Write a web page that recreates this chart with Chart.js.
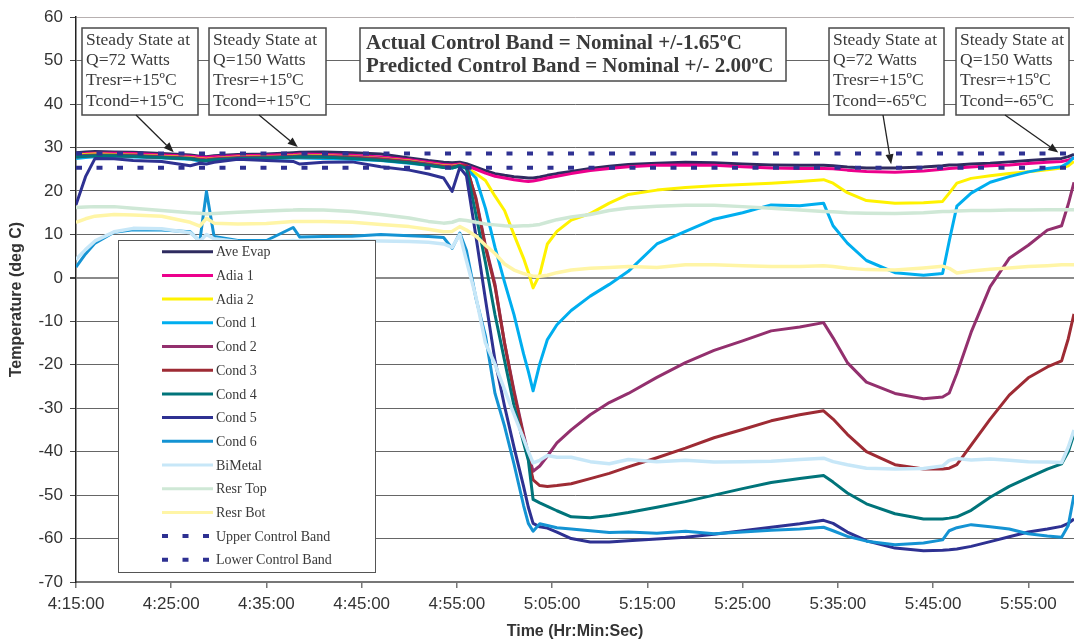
<!DOCTYPE html>
<html>
<head>
<meta charset="utf-8">
<script src="https://cdn.jsdelivr.net/npm/chart.js@4.4.1/dist/chart.umd.min.js"></script>
<style>
  html, body { margin: 0; padding: 0; background: #fff; }
  #wrap { width: 1074px; height: 644px; }
</style>
</head>
<body>
<div id="wrap"><canvas id="tempChart" width="1074" height="644"></canvas></div>
<script>
// x values: minutes after 4:15:00
const minutes = [0, 1, 2, 4, 6, 9, 12, 13, 13.7, 14.5,
  17, 20, 22.8, 23.5, 26, 29, 32, 35, 37, 38.6,
  39.5, 40.3, 41, 42, 43, 44, 45, 46, 47, 47.5,
  48, 48.7, 49.5, 50.5, 52, 54, 56, 58, 61, 64,
  67, 70, 73, 76, 78.5, 79.5, 81, 83, 86, 89,
  91, 91.7, 92.5, 94, 96, 98, 100, 102, 103.5, 104.2,
  104.8];

const aveEvap = [28.8, 29.0, 29.1, 29.0, 28.9, 28.6, 28.3, 28.0, 27.9, 28.1,
  28.4, 28.5, 28.8, 28.9, 29.0, 28.8, 28.5, 27.6, 27.0, 26.6,
  26.5, 26.6, 26.3, 25.5, 24.7, 24.0, 23.6, 23.3, 23.1, 23.0,
  23.0, 23.2, 23.6, 24.0, 24.5, 25.2, 25.7, 26.1, 26.4, 26.6,
  26.5, 26.2, 26.0, 25.9, 25.9, 25.8, 25.5, 25.3, 25.3, 25.5,
  25.8, 26.0, 26.0, 26.2, 26.4, 26.7, 27.0, 27.3, 27.5, 27.9,
  28.4];
const adia1 = [28.4, 28.6, 28.7, 28.7, 28.6, 28.3, 28.0, 27.8, 27.7, 27.9,
  28.1, 28.2, 28.4, 28.5, 28.4, 28.2, 27.8, 27.2, 26.6, 26.1,
  26.0, 26.2, 25.8, 25.0, 24.1, 23.4, 23.0, 22.6, 22.3, 22.2,
  22.3, 22.6, 23.0, 23.4, 24.0, 24.7, 25.2, 25.6, 25.9, 26.0,
  25.9, 25.6, 25.3, 25.2, 25.2, 25.1, 24.8, 24.5, 24.3, 24.6,
  25.0, 25.2, 25.3, 25.5, 25.8, 26.0, 26.3, 26.6, 26.8, 27.1,
  27.6];
const adia2 = [28.2, 28.4, 28.5, 28.4, 28.3, 28.0, 27.7, 27.4, 27.3, 27.5,
  27.8, 27.9, 28.1, 28.2, 28.1, 27.9, 27.5, 26.9, 26.3, 25.8,
  25.7, 26.0, 25.3, 24.0, 22.4, 18.8, 15.5, 9.9, 4.5, 1.3,
  -2.3, 0.8, 7.8, 10.7, 13.3, 14.8, 17.2, 19.2, 20.2, 20.8,
  21.2, 21.5, 21.8, 22.2, 22.6, 21.8, 19.6, 17.8, 17.2, 17.3,
  17.6, 19.5, 21.8, 22.9, 23.5, 24.0, 24.4, 24.9, 25.3, 25.8,
  26.8];
const cond1 = [27.5, 27.7, 27.9, 27.9, 27.8, 27.6, 27.3, 26.9, 26.9, 27.1,
  27.3, 27.4, 27.6, 27.6, 27.5, 27.3, 27.0, 26.4, 25.9, 25.5,
  25.3, 25.8, 25.2, 23.0, 16.0, 7.0, -1.0, -8.5, -17.5, -21.5,
  -26.0, -19.8, -14.2, -10.8, -7.5, -4.2, -1.5, 1.5, 7.8, 10.7,
  13.5, 15.0, 16.8, 16.6, 17.2, 12.0, 8.0, 4.0, 1.2, 0.6,
  1.0, 8.5, 16.5, 19.5, 22.0, 23.3, 24.4, 25.2, 25.6, 26.5,
  27.8];
const cond2 = [28.0, 28.2, 28.3, 28.3, 28.2, 27.9, 27.6, 27.3, 27.2, 27.4,
  27.7, 27.8, 28.0, 28.1, 28.0, 27.8, 27.4, 26.8, 26.2, 25.7,
  25.6, 25.9, 25.5, 18.4, 7.4, -1.5, -15.0, -26.0, -36.0, -40.5,
  -44.5, -43.3, -41.0, -38.0, -35.0, -31.5, -28.7, -26.6, -22.9, -19.5,
  -16.7, -14.5, -12.2, -11.3, -10.3, -13.8, -19.5, -24.0, -26.6, -27.8,
  -27.4, -26.5, -22.0, -12.5, -2.0, 4.5, 7.5, 11.0, 12.0, 17.0,
  22.0];
const cond3 = [27.8, 28.0, 28.1, 28.1, 28.0, 27.7, 27.4, 27.1, 27.0, 27.2,
  27.5, 27.6, 27.8, 27.9, 27.8, 27.6, 27.2, 26.6, 26.0, 25.5,
  25.4, 25.8, 25.8, 18.0, 7.0, -2.0, -15.0, -26.5, -36.5, -41.5,
  -46.5, -47.8, -48.0, -47.8, -47.4, -46.2, -45.0, -43.5, -41.4, -39.2,
  -36.8, -34.9, -32.9, -31.5, -30.6, -32.5, -36.0, -40.0, -43.0, -44.0,
  -44.0, -43.8, -43.0, -38.5, -32.5, -27.0, -23.0, -20.5, -19.1, -14.0,
  -8.3];
const cond4 = [27.9, 28.0, 28.1, 28.1, 28.0, 27.7, 27.4, 27.1, 27.0, 27.2,
  27.5, 27.6, 27.8, 27.9, 27.8, 27.5, 27.1, 26.5, 25.9, 25.4,
  25.3, 25.8, 25.2, 14.5, 3.5, -8.5, -19.0, -29.5, -38.0, -42.0,
  -51.0, -51.8, -52.6, -53.6, -55.0, -55.2, -54.7, -54.0, -52.8, -51.5,
  -50.0, -48.5, -47.1, -46.2, -45.5, -47.0, -49.5, -52.0, -54.3, -55.5,
  -55.5, -55.3, -55.0, -53.5, -50.5, -48.0, -46.0, -44.0, -42.8, -40.0,
  -36.0];
const cond5 = [16.8, 23.3, 27.5, 27.4, 27.0, 26.8, 25.8, 26.4, 26.2, 26.6,
  27.3, 27.0, 26.8, 26.2, 26.6, 26.7, 25.6, 24.8, 23.9, 23.0,
  19.9, 25.4, 23.5, 9.5, -5.0, -19.0, -29.5, -39.0, -48.0, -52.8,
  -56.5, -57.3, -57.6, -58.5, -60.0, -60.8, -60.8, -60.5, -60.1, -59.7,
  -59.0, -58.2, -57.4, -56.6, -55.8, -56.5, -58.5, -60.5, -62.2, -62.8,
  -62.7, -62.6, -62.4, -61.8, -60.7, -59.6, -58.5, -57.8, -57.2, -56.5,
  -55.5];
const cond6 = [2.5, 5.5, 8.0, 10.5, 11.1, 11.0, 10.6, 8.4, 19.9, 9.5,
  8.6, 8.6, 11.6, 9.4, 9.5, 9.6, 10.0, 9.7, 9.5, 9.3,
  6.8, 10.3, 6.3, -4.7, -13.4, -26.6, -34.1, -42.9, -52.4, -56.5,
  -58.3, -56.6, -57.0, -57.5, -57.8, -58.2, -58.6, -58.5, -58.8, -58.3,
  -58.9, -58.5, -58.1, -57.8, -57.4, -58.2, -59.5, -60.6, -61.4, -61.0,
  -60.3, -58.2, -57.5, -56.8, -57.3, -57.8, -58.9, -59.4, -59.7, -57.0,
  -50.0];
const biMetal = [4.2, 6.5, 8.5, 10.6, 11.4, 11.3, 10.4, 8.5, 10.0, 9.0,
  8.4, 8.3, 8.6, 8.5, 8.5, 8.6, 8.5, 8.4, 8.2, 7.8,
  7.0, 10.0, 4.0, -4.4, -15.0, -19.9, -25.7, -31.4, -37.0, -40.0,
  -42.6, -42.0, -40.9, -41.3, -41.3, -42.3, -42.8, -41.8, -42.3, -42.0,
  -42.4, -42.3, -42.2, -41.8, -41.5, -42.3, -43.0, -43.8, -44.0, -43.9,
  -43.3, -42.0, -41.6, -41.9, -41.7, -42.0, -42.3, -42.4, -42.5, -39.0,
  -35.0];
const resrTop = [16.2, 16.3, 16.4, 16.4, 16.0, 15.5, 15.0, 14.9, 14.7, 14.8,
  15.1, 15.4, 15.6, 15.7, 15.6, 15.3, 14.6, 13.8, 13.0, 12.6,
  12.8, 13.4, 13.2, 12.8, 12.4, 12.2, 12.0, 11.9, 12.0, 12.0,
  12.1, 12.3, 12.8, 13.4, 14.0, 14.6, 15.5, 16.1, 16.5, 16.7,
  16.7, 16.4, 16.0, 15.6, 15.3, 15.2, 15.0, 14.9, 14.8, 15.0,
  15.3, 15.3, 15.4, 15.5, 15.5, 15.6, 15.6, 15.7, 15.7, 15.7,
  15.7];
const resrBot = [12.8, 13.6, 14.2, 14.6, 14.5, 14.2, 12.8, 11.9, 13.7, 12.6,
  12.4, 12.5, 13.0, 13.0, 13.0, 12.8, 12.3, 11.8, 11.2, 10.6,
  10.7, 11.8, 11.0, 9.6, 7.5, 5.6, 3.2, 1.8, 1.0, 0.7,
  0.4, 0.4, 0.6, 1.2, 1.8, 2.2, 2.4, 2.6, 2.4, 3.0,
  3.0, 2.8, 2.6, 2.6, 2.8, 2.6, 2.2, 1.9, 1.8, 2.3,
  2.7, 2.2, 1.1, 1.6, 2.0, 2.3, 2.6, 2.8, 3.0, 3.0,
  3.0];
const upperBand = 28.65;
const lowerBand = 25.35;

// tick positions (minutes after 4:15:00 and deg C)
const timeTicks = [0, 10, 20, 30, 40, 50, 60, 70, 80, 90, 100];
const xRange = { min: 0, max: 104.8 };
const yTicks = { min: -70, max: 60, step: 10 };
const startSeconds = 4 * 3600 + 15 * 60;

function fmtTime(v) {
  const total = startSeconds + Math.round(v * 60);
  const h = Math.floor(total / 3600);
  const m = Math.floor((total % 3600) / 60);
  const s = total % 60;
  return h + ':' + String(m).padStart(2, '0') + ':' + String(s).padStart(2, '0');
}

function pts(values) {
  return minutes.map((m, i) => ({ x: m, y: values[i] }));
}

const seriesDefs = [
  ['Ave Evap', aveEvap, '#2e2b5f', 3],
  ['Adia 1', adia1, '#ec008c', 3],
  ['Adia 2', adia2, '#fff200', 3],
  ['Cond 1', cond1, '#00aeef', 3],
  ['Cond 2', cond2, '#93306e', 3],
  ['Cond 3', cond3, '#9e2b34', 3],
  ['Cond 4', cond4, '#00747a', 3],
  ['Cond 5', cond5, '#2e3192', 3],
  ['Cond 6', cond6, '#1493d3', 3],
  ['BiMetal', biMetal, '#c7e7f8', 3.5],
  ['Resr Top', resrTop, '#cfe8d6', 3.5],
  ['Resr Bot', resrBot, '#fff5a6', 3.5]
];

const datasets = seriesDefs.map((d, i) => ({
  label: d[0],
  data: pts(d[1]),
  borderColor: d[2],
  borderWidth: d[3],
  order: -i
}));
datasets.push({
  label: 'Upper Control Band',
  data: pts(minutes.map(() => upperBand)),
  borderColor: '#2e3192', borderWidth: 4, borderDash: [6, 14.5], order: -12
});
datasets.push({
  label: 'Lower Control Band',
  data: pts(minutes.map(() => lowerBand)),
  borderColor: '#2e3192', borderWidth: 4, borderDash: [6, 14.5], order: -13
});

// text boxes over the plot
const notes = [
  { x: 82, y: 28, w: 116, h: 87, lines: ['Steady State at', 'Q=72 Watts', 'Tresr=+15ºC', 'Tcond=+15ºC'], tail: [136, 115], tip: [10.26, 28.92] },
  { x: 209, y: 28, w: 117, h: 87, lines: ['Steady State at', 'Q=150 Watts', 'Tresr=+15ºC', 'Tcond=+15ºC'], tail: [259, 115], tip: [23.29, 30.12] },
  { x: 829, y: 28, w: 115, h: 87, lines: ['Steady State at', 'Q=72 Watts', 'Tresr=+15ºC', 'Tcond=-65ºC'], tail: [883, 115], tip: [85.6, 26.17] },
  { x: 956, y: 28, w: 113, h: 87, lines: ['Steady State at', 'Q=150 Watts', 'Tresr=+15ºC', 'Tcond=-65ºC'], tail: [1005, 115], tip: [103.15, 28.85] }
];
const bandNote = ['Actual Control Band = Nominal +/-1.65ºC', 'Predicted Control Band = Nominal +/- 2.00ºC'];

function arrow(ctx, x1, y1, x2, y2) {
  const a = Math.atan2(y2 - y1, x2 - x1);
  const len = 10, half = 4;
  ctx.beginPath();
  ctx.moveTo(x1, y1);
  ctx.lineTo(x2 - Math.cos(a) * len, y2 - Math.sin(a) * len);
  ctx.stroke();
  ctx.beginPath();
  ctx.moveTo(x2, y2);
  ctx.lineTo(x2 - Math.cos(a) * len - Math.sin(a) * half, y2 - Math.sin(a) * len + Math.cos(a) * half);
  ctx.lineTo(x2 - Math.cos(a) * len + Math.sin(a) * half, y2 - Math.sin(a) * len - Math.cos(a) * half);
  ctx.closePath();
  ctx.fill();
}

const overlay = {
  id: 'overlay',
  afterDraw(chart) {
    const ctx = chart.ctx;
    const xs = chart.scales.x, ys = chart.scales.y;
    ctx.save();

    // annotation boxes + arrows
    notes.forEach(n => {
      ctx.fillStyle = '#fff';
      ctx.fillRect(n.x, n.y, n.w, n.h);
      ctx.strokeStyle = '#4a4a4a';
      ctx.lineWidth = 1.5;
      ctx.strokeRect(n.x, n.y, n.w, n.h);
      ctx.fillStyle = '#3a3a3a';
      ctx.font = '17.5px "Liberation Serif", "Times New Roman", serif';
      ctx.textBaseline = 'alphabetic';
      n.lines.forEach((t, i) => ctx.fillText(t, n.x + 4, n.y + 17 + i * 20.2));
      ctx.strokeStyle = '#222';
      ctx.fillStyle = '#222';
      ctx.lineWidth = 1.3;
      arrow(ctx, n.tail[0], n.tail[1], xs.getPixelForValue(n.tip[0]), ys.getPixelForValue(n.tip[1]));
    });

    ctx.fillStyle = '#fff';
    ctx.fillRect(360, 28, 426, 53);
    ctx.strokeStyle = '#4a4a4a';
    ctx.lineWidth = 1.5;
    ctx.strokeRect(360, 28, 426, 53);
    ctx.fillStyle = '#3a3a3a';
    ctx.font = 'bold 21px "Liberation Serif", "Times New Roman", serif';
    ctx.fillText(bandNote[0], 366, 49);
    ctx.fillText(bandNote[1], 366, 72);

    // legend box
    const lx = 118, ly = 240, lw = 257, lh = 332;
    ctx.fillStyle = '#fff';
    ctx.fillRect(lx, ly, lw, lh);
    ctx.strokeStyle = '#555';
    ctx.lineWidth = 1;
    ctx.strokeRect(lx + 0.5, ly + 0.5, lw, lh);
    ctx.font = '14px "Liberation Serif", "Times New Roman", serif';
    ctx.textBaseline = 'middle';
    chart.data.datasets.forEach((ds, i) => {
      const y = ly + 11.7 + i * 23.7;
      ctx.beginPath();
      ctx.setLineDash(ds.borderDash ? [6, 14.5] : []);
      ctx.strokeStyle = ds.borderColor;
      ctx.lineWidth = ds.borderDash ? 4 : 3;
      ctx.moveTo(162, y);
      ctx.lineTo(213, y);
      ctx.stroke();
      ctx.setLineDash([]);
      ctx.fillStyle = '#3a3a3a';
      ctx.fillText(ds.label, 216, y + 1);
    });
    ctx.restore();
  }
};

const tickFont = { family: '"Liberation Sans", Arial, sans-serif', size: 17 };
const titleFont = { family: '"Liberation Sans", Arial, sans-serif', size: 16, weight: 'bold' };

new Chart(document.getElementById('tempChart'), {
  type: 'line',
  data: { datasets: datasets },
  plugins: [overlay],
  options: {
    responsive: false,
    animation: false,
    events: [],
    layout: { padding: { top: 15, right: 0, bottom: 0, left: 0 } },
    elements: {
      point: { radius: 0 },
      line: { tension: 0, borderJoinStyle: 'round', fill: false }
    },
    plugins: { legend: { display: false }, tooltip: { enabled: false } },
    scales: {
      x: {
        type: 'linear',
        min: xRange.min,
        max: xRange.max,
        afterBuildTicks: axis => { axis.ticks = timeTicks.map(v => ({ value: v })); },
        afterFit: scale => { scale.height = 62; },
        ticks: { autoSkip: false, maxRotation: 0, padding: 6, color: '#333', font: tickFont, callback: v => fmtTime(v) },
        grid: { drawOnChartArea: false, drawTicks: true, tickLength: 6, color: '#777', lineWidth: 1.5 },
        border: { color: '#777', width: 2 },
        title: { display: true, text: 'Time (Hr:Min:Sec)', color: '#333', font: titleFont, padding: { top: 0, bottom: 3 } }
      },
      y: {
        min: yTicks.min,
        max: yTicks.max,
        afterFit: scale => { scale.width = 76; },
        ticks: { stepSize: yTicks.step, padding: 7, color: '#333', font: tickFont },
        grid: {
          color: c => c.tick.value === yTicks.max ? '#b7b0b0' : (c.tick.value === 0 ? '#8a8a8a' : '#666'),
          lineWidth: c => c.tick.value === 0 ? 2 : 1,
          tickColor: '#444',
          tickLength: 6
        },
        border: { color: '#222', width: 1.5 },
        title: { display: true, text: 'Temperature (deg C)', color: '#333', font: titleFont, padding: { top: 7, bottom: 0 } }
      }
    }
  }
});
</script>
</body>
</html>
